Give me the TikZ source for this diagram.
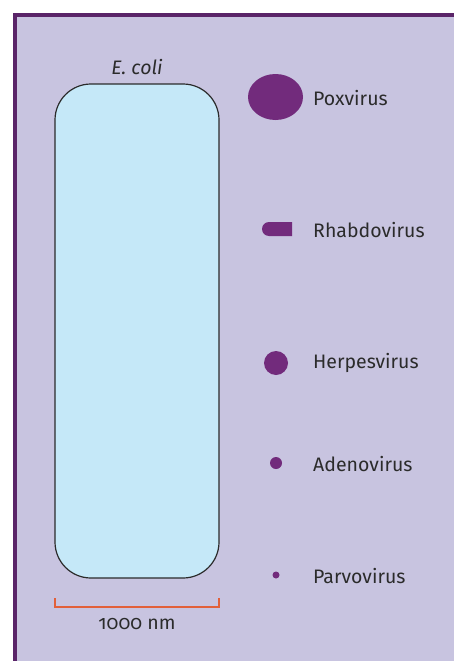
\documentclass[tikz,border=0pt]{standalone}
\usepackage{fontspec}
\setmainfont{Fira Sans}
\newfontfamily\oldnums[Numbers=OldStyle]{Fira Sans}
\usetikzlibrary{shapes.misc,shapes.geometric}
\definecolor{panel}{HTML}{C8C4E0}
\definecolor{framepurple}{HTML}{5A2468}
\definecolor{virus}{HTML}{722B7C}
\definecolor{cell}{HTML}{C5E8F8}
\definecolor{scalered}{HTML}{E2603A}
\definecolor{ink}{HTML}{2B2B2B}

\begin{document}
\begin{tikzpicture}[x=1pt, y=-1pt, font=\fontsize{19.5}{22}\selectfont, text=ink,
    lbl/.style={anchor=west, inner sep=0pt},
    particle/.style={fill=virus, draw=none, inner sep=0pt}]
    \useasboundingbox (0,0) rectangle (454,661);
    \fill[panel] (13,13) rectangle (454,661);
    \draw[draw=framepurple, line width=4pt] (15,661) -- (15,15) -- (454,15);

    % the bacterium and its scale
    \node[draw=ink, fill=cell, line width=1.2pt, rounded corners=36pt,
      minimum width=164pt, minimum height=494pt] (ecoli) at (137,331) {};
    \node[inner sep=0pt] (ecolilbl) at (137,67) {\itshape E. coli};
    \coordinate (barL) at (55,598);
    \coordinate (barR) at (219,598);
    \draw[scalered, line width=2pt] (barL) -- (55,607) -- (219,607) -- (barR);
    \node[inner sep=0pt] (scale) at (137,624) {\oldnums 1000 nm};

    % viruses, drawn to the same scale
    \node[particle, ellipse, minimum width=55pt, minimum height=46pt] (pox) at (275.5,97) {};
    \node[particle, rounded rectangle, rounded rectangle right arc=none,
      minimum width=30pt, minimum height=14pt] (rhabdo) at (277,229) {};
    \node[particle, circle, minimum size=24pt] (herpes) at (276,363) {};
    \node[particle, circle, minimum size=12pt] (adeno) at (276,463) {};
    \node[particle, circle, minimum size=7pt] (parvo) at (276,575) {};
    \foreach \n/\y/\t in {pox/98/Poxvirus, rhabdo/230/Rhabdovirus, herpes/363/Herpesvirus,
      adeno/464/Adenovirus, parvo/576/Parvovirus}
      \node[lbl] (\n lbl) at (313,\y) {\t};
\end{tikzpicture}
\end{document}
